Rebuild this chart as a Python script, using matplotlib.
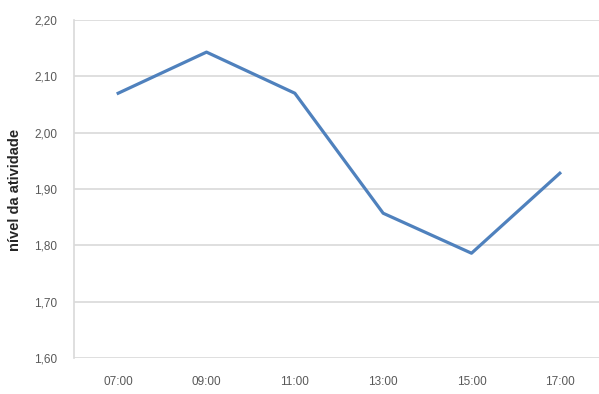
import matplotlib.pyplot as plt

hours = ["07:00", "09:00", "11:00", "13:00", "15:00", "17:00"]
activity = [2.07, 2.143, 2.07, 1.857, 1.786, 1.928]
y_ticks = [1.60, 1.70, 1.80, 1.90, 2.00, 2.10, 2.20]

plt.rcParams["font.family"] = ["Liberation Sans", "DejaVu Sans"]

fig = plt.figure(figsize=(5.99, 3.94), dpi=100)
# the source image is cropped on the right, so the axes run past the edge
ax = fig.add_axes([74 / 599, 36 / 394, 530 / 599, 338 / 394])

x = range(len(hours))
ax.plot(x, activity, color="#4f81bd", linewidth=2.3, solid_joinstyle="round")

ax.set_xlim(-0.5, len(hours) - 0.5)
ax.set_ylim(1.60, 2.20)
ax.set_xticks(list(x))
ax.set_xticklabels(hours)
ax.set_yticks(y_ticks)
ax.set_yticklabels([f"{v:.2f}".replace(".", ",") for v in y_ticks])

ax.grid(axis="y", color="#d9d9d9", linewidth=1.2)
ax.set_axisbelow(True)
for side in ["top", "right", "bottom"]:
    ax.spines[side].set_visible(False)
ax.spines["left"].set_color("#d9d9d9")
ax.spines["left"].set_linewidth(1.2)
ax.tick_params(axis="both", length=0, labelsize=8.5, labelcolor="#595959")
ax.tick_params(axis="y", pad=12)
ax.tick_params(axis="x", pad=13)

fig.text(15 / 599, 1 - 190 / 394, "nível da atividade", rotation=90,
         ha="center", va="center", fontsize=10.5, fontweight="bold", color="#262626")

fig.savefig("out.png", dpi=100)
